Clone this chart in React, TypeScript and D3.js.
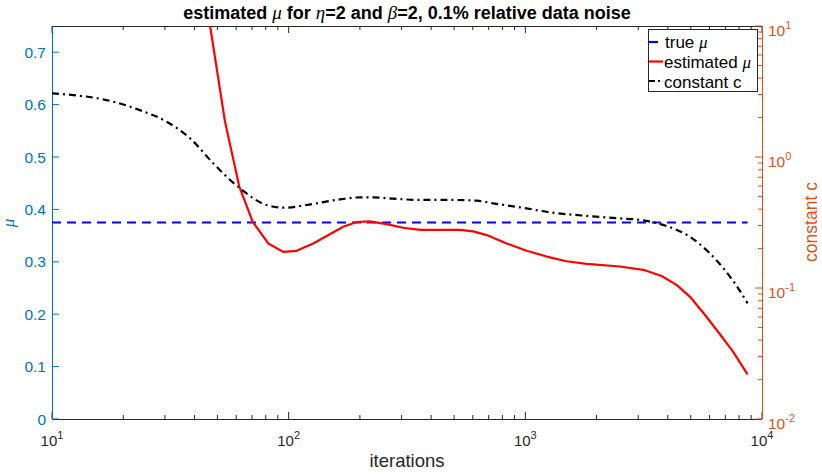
import React from "react";
import * as d3 from "d3";

const iterRed = [45, 53.8, 61.8, 70.5, 82, 94.9, 108, 127, 170, 194, 220, 259, 305, 359, 422, 530, 603, 687, 834, 1014, 1231, 1494, 1815, 2512, 3201, 3765, 4357, 4993, 5737, 6532, 7556, 8690];
const muRed = [0.793, 0.568, 0.444, 0.376, 0.335, 0.319, 0.321, 0.335, 0.367, 0.376, 0.377, 0.372, 0.365, 0.361, 0.361, 0.361, 0.358, 0.351, 0.335, 0.321, 0.31, 0.301, 0.296, 0.291, 0.284, 0.273, 0.256, 0.232, 0.199, 0.166, 0.128, 0.085];

const iterC = [10, 12.3, 17, 23.5, 30.5, 38.3, 48, 62.2, 80.7, 96.4, 119, 165, 200, 227, 276, 359, 494, 622, 730, 948, 1308, 1816, 2512, 3053, 3958, 4959, 6023, 6969, 7937, 8690];
const cVal = [3.06, 2.97, 2.72, 2.28, 1.86, 1.39, 0.895, 0.577, 0.43, 0.41, 0.43, 0.475, 0.492, 0.492, 0.481, 0.47, 0.47, 0.464, 0.443, 0.413, 0.376, 0.355, 0.34, 0.331, 0.297, 0.246, 0.184, 0.137, 0.0995, 0.0764];

const trueMu = 0.375;
const trueIter = [10, 8690];

const muTicks = [0, 0.1, 0.2, 0.3, 0.4, 0.5, 0.6, 0.7];
const xMajor = [10, 100, 1000, 10000];
const xExp = ["1", "2", "3", "4"];
const cMajor = [0.01, 0.1, 1, 10];
const cExp = ["-2", "-1", "0", "1"];

const L = 52, R = 762, T = 26, B = 419;
const BLUE = "#0072BD";
const ORANGE = "#D95319";
const AX = "#262626";
const SANS = "'Liberation Sans', Arial, Helvetica, sans-serif";
const SERIF = "'Liberation Serif', 'Times New Roman', serif";

function minorLog(lo: number, hi: number) {
  const out: number[] = [];
  for (let d = lo; d < hi * 0.999; d *= 10) for (let k = 2; k <= 9; k++) out.push(d * k);
  return out;
}

export default function App() {
  const x = d3.scaleLog().domain([10, 10000]).range([L, R]);
  const yL = d3.scaleLinear().domain([0, 0.75]).range([B, T]);
  const yR = d3.scaleLog().domain([0.01, 10]).range([B, T]);

  const redLine = d3.line<number>().x((_, i) => x(iterRed[i])).y((d) => yL(d))(muRed) || "";
  const cLine = d3
    .line<number>()
    .x((_, i) => x(iterC[i]))
    .y((d) => yR(d))
    .curve(d3.curveMonotoneX)(cVal) || "";

  const xMinor = minorLog(10, 10000);
  const cMinor = minorLog(0.01, 10);
  const tl = 7, tm = 4;
  const greek = { fontFamily: SERIF, fontStyle: "italic", fontWeight: "normal" } as const;

  return (
    <svg width={822} height={476} style={{ position: "absolute", left: 0, top: 0, background: "#fff" }}>
      <defs>
        <clipPath id="plot">
          <rect x={L} y={T} width={R - L} height={B - T} />
        </clipPath>
      </defs>
      <rect x={0} y={0} width={822} height={476} fill="#fff" />

      {/* box top and bottom */}
      <line x1={L} x2={R} y1={T + 0.5} y2={T + 0.5} stroke={AX} strokeWidth={1} />
      <line x1={L} x2={R} y1={B + 0.5} y2={B + 0.5} stroke={AX} strokeWidth={1} />

      {/* x ticks */}
      {xMajor.map((v) => (
        <g key={"xm" + v}>
          <line x1={x(v)} x2={x(v)} y1={B} y2={B - tl} stroke={AX} />
          <line x1={x(v)} x2={x(v)} y1={T} y2={T + tl} stroke={AX} />
        </g>
      ))}
      {xMinor.map((v) => (
        <g key={"xn" + v}>
          <line x1={x(v)} x2={x(v)} y1={B} y2={B - tm} stroke={AX} />
          <line x1={x(v)} x2={x(v)} y1={T} y2={T + tm} stroke={AX} />
        </g>
      ))}
      {xMajor.map((v, i) => (
        <text key={"xl" + v} x={x(v)} y={446} textAnchor="middle" fontFamily={SANS} fontSize={15} fill={AX}>
          10<tspan dy={-7} fontSize={11}>{xExp[i]}</tspan>
        </text>
      ))}
      <text x={(L + R) / 2} y={467} textAnchor="middle" fontFamily={SANS} fontSize={18.5} fill={AX}>
        iterations
      </text>

      {/* left axis */}
      <line x1={L + 0.5} x2={L + 0.5} y1={T} y2={B} stroke={BLUE} strokeWidth={1} />
      {muTicks.map((v) => (
        <g key={"yl" + v}>
          <line x1={L} x2={L + tl} y1={yL(v)} y2={yL(v)} stroke={BLUE} />
          <text x={L - 6} y={yL(v) + 5.5} textAnchor="end" fontFamily={SANS} fontSize={15.5} fill={BLUE}>
            {v === 0 ? "0" : v.toFixed(1)}
          </text>
        </g>
      ))}
      <text
        transform={`translate(14, 223) rotate(-90)`}
        textAnchor="middle"
        fontFamily={SERIF}
        fontStyle="italic"
        fontSize={17}
        fill={BLUE}
      >
        μ
      </text>

      {/* right axis */}
      <line x1={R + 0.5} x2={R + 0.5} y1={T} y2={B} stroke={ORANGE} strokeWidth={1} />
      {cMajor.map((v, i) => (
        <g key={"yr" + v}>
          <line x1={R} x2={R - tl} y1={yR(v)} y2={yR(v)} stroke={ORANGE} />
          <text x={R + 6} y={yR(v) + 10} textAnchor="start" fontFamily={SANS} fontSize={15.5} fill={ORANGE}>
            10<tspan dy={-7} fontSize={11}>{cExp[i]}</tspan>
          </text>
        </g>
      ))}
      {cMinor.map((v) => (
        <line key={"yrn" + v} x1={R} x2={R - tm} y1={yR(v)} y2={yR(v)} stroke={ORANGE} />
      ))}
      <text
        transform={`translate(817, 222) rotate(-90)`}
        textAnchor="middle"
        fontFamily={SANS}
        fontSize={17.5}
        fill={ORANGE}
      >
        constant c
      </text>

      {/* data */}
      <g clipPath="url(#plot)">
        <line
          x1={x(trueIter[0])}
          x2={x(trueIter[1])}
          y1={yL(trueMu)}
          y2={yL(trueMu)}
          stroke="#0000FF"
          strokeWidth={2.2}
          strokeDasharray="9,6"
        />
        <path d={redLine} fill="none" stroke="#FF0000" strokeWidth={2.2} strokeLinejoin="round" />
        <path d={cLine} fill="none" stroke="#000" strokeWidth={2.2} strokeDasharray="7,4,2,4" />
      </g>

      {/* title */}
      <text x={(L + R) / 2} y={19} textAnchor="middle" fontFamily={SANS} fontWeight="bold" fontSize={18} fill="#000">
        estimated <tspan {...greek} fontSize={19}>μ</tspan> for{" "}
        <tspan {...greek} fontSize={19}>η</tspan>=2 and{" "}
        <tspan {...greek} fontSize={19}>β</tspan>=2, 0.1% relative data noise
      </text>

      {/* legend */}
      <g>
        <rect x={648.5} y={29.5} width={109} height={62} fill="#fff" stroke={AX} strokeWidth={1} />
        <line x1={649} x2={658} y1={42} y2={42} stroke="#0000FF" strokeWidth={2.2} />
        <text x={665} y={47.5} fontFamily={SANS} fontSize={17} fill="#000">
          true <tspan fontFamily={SERIF} fontStyle="italic">μ</tspan>
        </text>
        <line x1={649} x2={663} y1={61.5} y2={61.5} stroke="#FF0000" strokeWidth={2.2} />
        <text x={664} y={67.5} fontFamily={SANS} fontSize={17} fill="#000">
          estimated <tspan fontFamily={SERIF} fontStyle="italic">μ</tspan>
        </text>
        <line x1={649} x2={663} y1={81} y2={81} stroke="#000" strokeWidth={2.2} strokeDasharray="6,3,2,3" />
        <text x={664} y={87.5} fontFamily={SANS} fontSize={17} fill="#000">
          constant c
        </text>
      </g>
    </svg>
  );
}
